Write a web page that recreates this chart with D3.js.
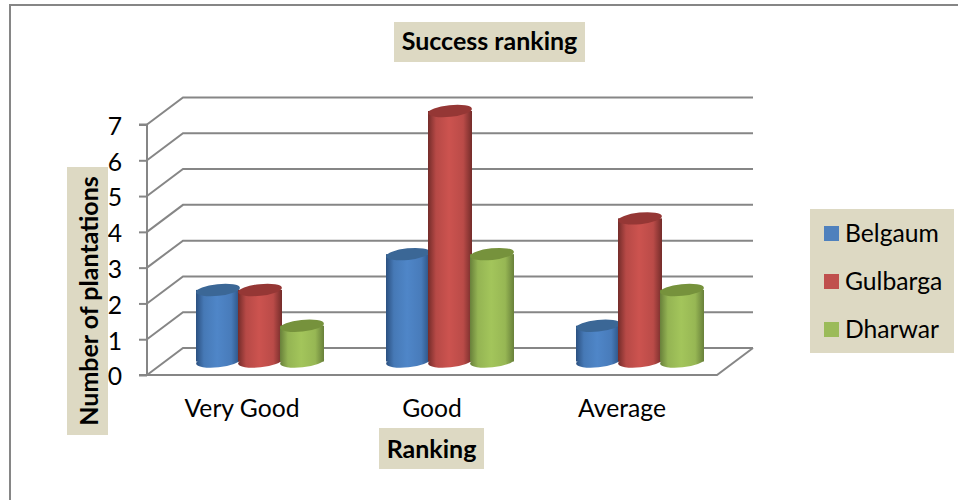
<!DOCTYPE html>
<html><head><meta charset="utf-8">
<script src="https://cdnjs.cloudflare.com/ajax/libs/d3/7.8.5/d3.min.js"></script>
<style>html,body{margin:0;padding:0;background:#fff}svg{display:block}text{font-family:Lato,"Open Sans",sans-serif;fill:#000}</style>
</head><body><svg id="c" width="958" height="500"></svg>
<script>
const categories = ["Very Good", "Good", "Average"];
const seriesNames = ["Belgaum", "Gulbarga", "Dharwar"];
const belgaum = [2, 3, 1];
const gulbarga = [2, 7, 4];
const dharwar = [1, 3, 2];
const yTicks = [0, 1, 2, 3, 4, 5, 6, 7];
const titleText = "Success ranking";
const xTitle = "Ranking";
const yTitle = "Number of plantations";
const seriesValues = [belgaum, gulbarga, dharwar];
const palette = [
  {edge:"#2b5080", mid:"#4f86c8", top:"#3b6796", key:"#4f81bd"},
  {edge:"#742c2a", mid:"#cc534f", top:"#953735", key:"#c0504d"},
  {edge:"#68803a", mid:"#a3c55b", top:"#76923c", key:"#9bbb59"}
];

const svg = d3.select("#c");
const W=958, beige="#ddd9c3", grid="#868686", dx=36, dy=27;
const y = d3.scaleLinear().domain([0,7]).range([375,124.5]);
const xBar = d3.scaleBand().domain(categories).range([165,735]);
const xSer = d3.scalePoint().domain(seriesNames).range([-42,42]);

// chart frame
svg.append("path").attr("d",`M10,500V5H${W}`).attr("fill","none").attr("stroke","#868686").attr("stroke-width",2);

// gradients
const defs = svg.append("defs");
palette.forEach((p,i)=>{
  const g = defs.append("linearGradient").attr("id","g"+i).attr("x1",0).attr("x2",1).attr("y1",0).attr("y2",0);
  [[0,p.edge],[0.18,d3.interpolateRgb(p.edge,p.mid)(0.75)],[0.48,p.mid],[0.8,d3.interpolateRgb(p.edge,p.mid)(0.8)],[1,p.edge]]
    .forEach(s=>g.append("stop").attr("offset",s[0]).attr("stop-color",s[1]));
});

// walls and floor
const gw = svg.append("g").attr("fill","none").attr("stroke",grid).attr("stroke-width",2);
gw.selectAll("path.g").data(yTicks).join("path").attr("class","g")
  .attr("d",v=>`M147,${y(v)}L${147+dx},${y(v)-dy}H${717+dx}`);
gw.append("path").attr("d",`M147,${y(0)}H717L${717+dx},${y(0)-dy}`);

// y axis
const ax = svg.append("g").attr("transform","translate(147,0)")
  .call(d3.axisLeft(y).tickValues(yTicks).tickSize(8).tickPadding(17).tickFormat(d3.format("d")));
ax.selectAll("path,line").attr("stroke",grid).attr("stroke-width",2);
ax.select(".domain").attr("d",`M-8,${y(7)}H0V${y(0)}H-8`);
ax.selectAll("text").attr("font-size",24.7).attr("font-family","Lato").attr("dy","0.4em").attr("x",-25);

// x axis labels
const bx = svg.append("g").attr("transform","translate(0,375)")
  .call(d3.axisBottom(xBar).tickSize(0).tickPadding(24));
bx.select(".domain").remove();
bx.selectAll("text").attr("font-size",24.7).attr("font-family","Lato").attr("dx",-18);

// cylinders: body rectangle, bottom ellipse, top ellipse
const rx=22, ry=5.8, tilt=-6, baseShift=13.5;
const bars = seriesNames.flatMap((s,i)=>categories.map((c,j)=>({s,i,c,v:seriesValues[i][j]})));
const gb = svg.append("g");
bars.forEach(d=>{
  const cx = xBar(d.c)+xBar.bandwidth()/2+xSer(d.s);
  const t = y(d.v)-baseShift, b = y(0)-baseShift;
  gb.append("ellipse").attr("cx",cx).attr("cy",b).attr("rx",rx).attr("ry",ry)
    .attr("transform",`rotate(${tilt} ${cx} ${b})`).attr("fill",`url(#g${d.i})`);
  gb.append("rect").attr("x",cx-rx).attr("y",t).attr("width",2*rx).attr("height",b-t).attr("fill",`url(#g${d.i})`);
  gb.append("ellipse").attr("cx",cx).attr("cy",t).attr("rx",rx).attr("ry",ry)
    .attr("transform",`rotate(${tilt} ${cx} ${t})`).attr("fill",palette[d.i].top);
});

// titles
function box(x,yy,w,h){svg.append("rect").attr("x",x).attr("y",yy).attr("width",w).attr("height",h).attr("fill",beige);}
box(394,22,191,40);
svg.append("text").attr("x",489.5).attr("y",50).attr("text-anchor","middle").attr("font-size",25).attr("font-weight",700).text(titleText);
box(379,428,105,41);
svg.append("text").attr("x",431.5).attr("y",458).attr("text-anchor","middle").attr("font-size",25).attr("font-weight",700).text(xTitle);
box(67,167,41,268);
svg.append("text").attr("transform","translate(98,301) rotate(-90)").attr("text-anchor","middle").attr("font-size",25).attr("font-weight",700).text(yTitle);

// legend
box(810,209,144,144);
const legY = d3.scalePoint().domain(seriesNames).range([233.5,329.5]);
seriesNames.forEach((s,i)=>{
  svg.append("rect").attr("x",824).attr("y",legY(s)-7.5).attr("width",15).attr("height",15).attr("fill",palette[i].key);
  svg.append("text").attr("x",845).attr("y",legY(s)+8).attr("font-size",24.7).text(s);
});
</script></body></html>
